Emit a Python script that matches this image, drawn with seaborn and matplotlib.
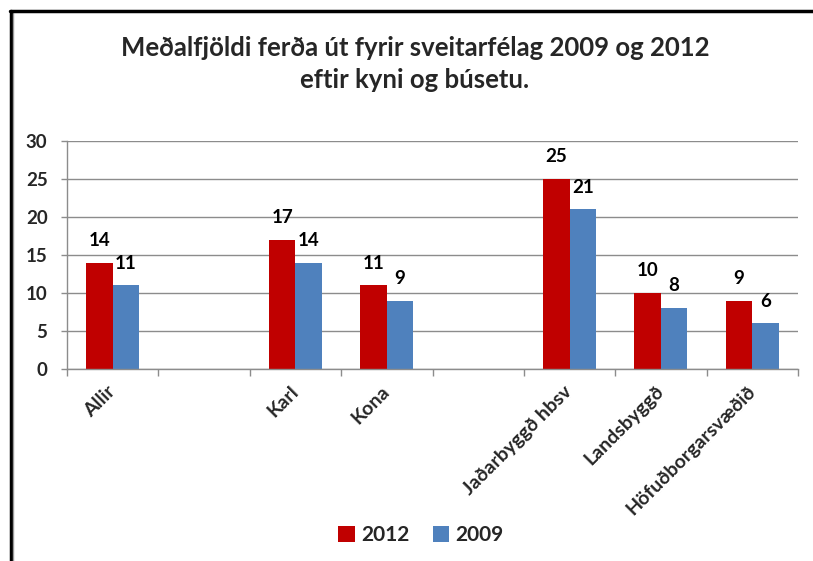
import matplotlib
matplotlib.use("Agg")
import matplotlib.pyplot as plt
from matplotlib.lines import Line2D
from matplotlib.patches import Patch
import seaborn as sns
import pandas as pd
import numpy as np

categories = ["Allir", " ", "Karl", "Kona", "  ", "Jaðarbyggð hbsv", "Landsbyggð", "Höfuðborgarsvæðið"]
data_categories = ["Allir", "Karl", "Kona", "Jaðarbyggð hbsv", "Landsbyggð", "Höfuðborgarsvæðið"]
values_2012 = [14, 17, 11, 25, 10, 9]
values_2009 = [11, 14, 9, 21, 8, 6]
series = ["2012", "2009"]
colors = ["#C00000", "#4F81BD"]
title = "Meðalfjöldi ferða út fyrir sveitarfélag 2009 og 2012\neftir kyni og búsetu."

df = pd.DataFrame({
    "cat": data_categories * 2,
    "val": values_2012 + values_2009,
    "year": ["2012"] * len(values_2012) + ["2009"] * len(values_2009),
})

sns.set_theme(style="white")
plt.rcParams["font.family"] = ["Lato", "DejaVu Sans"]
plt.rcParams["font.weight"] = "bold"

fig = plt.figure(figsize=(8.13, 5.61), dpi=100)
ax = fig.add_axes([67/813, 1-369/561, 731/813, 228/561])

sns.barplot(data=df, x="cat", y="val", hue="year", order=categories, hue_order=series,
            palette=colors, width=0.58, ax=ax, legend=False, saturation=1, edgecolor="none")

ax.set_xlim(-0.5, len(categories) - 0.5)
ax.set_ylim(0, 30)
ax.set_yticks(range(0, 31, 5))
ax.yaxis.grid(True, color="#8c8c8c", lw=1)
ax.set_axisbelow(True)
for s in ["top", "right"]:
    ax.spines[s].set_visible(False)
for s in ["left", "bottom"]:
    ax.spines[s].set_color("#8c8c8c")
    ax.spines[s].set_linewidth(1)
ax.set_xlabel("")
ax.set_ylabel("")

ax.tick_params(axis="y", left=True, length=4, width=1, color="#8c8c8c", pad=10, labelsize=13.5)
for t in ax.get_yticklabels():
    t.set_fontweight("bold")

ax.set_xticks(np.arange(-0.5, len(categories), 1), minor=True)
ax.tick_params(axis="x", which="minor", bottom=True, length=5, width=1, color="#8c8c8c")
ax.tick_params(axis="x", which="major", bottom=False, length=0, pad=14)
ax.set_xticks(range(len(categories)))
ax.set_xticklabels(categories, rotation=45, ha="right", va="center", rotation_mode="anchor",
                   fontsize=14, fontweight="bold")

for cont in ax.containers:
    for bar in cont:
        h = bar.get_height()
        if np.isnan(h) or h == 0:
            continue
        ax.annotate(f"{h:.0f}", (bar.get_x() + bar.get_width() / 2, h), xytext=(0, 10),
                    textcoords="offset points", ha="center", va="bottom",
                    fontsize=13.5, fontweight="bold", color="black")

fig.text(415/813, 1 - 64/561, title, ha="center", va="center", fontsize=18.5, fontweight="bold",
         linespacing=1.4)

handles = [Patch(facecolor=c, edgecolor="none") for c in colors]
fig.legend(handles, series, loc="center", bbox_to_anchor=(421/813, 1 - 535/561), ncol=2,
           frameon=False, prop={"size": 15, "weight": "bold"}, handlelength=0.8, handleheight=0.8,
           handletextpad=0.3, columnspacing=1.1)

fig.add_artist(Line2D([11/813, 11/813], [0, 1 - 11/561], color="black", lw=2.5, transform=fig.transFigure))
fig.add_artist(Line2D([12.8/813, 12.8/813], [0, 1 - 12.5/561], color="#9a9a9a", lw=1, transform=fig.transFigure))
fig.add_artist(Line2D([10/813, 1], [1 - 11/561, 1 - 11/561], color="black", lw=2.5, transform=fig.transFigure))

fig.savefig("out.png", dpi=100, facecolor="white")
